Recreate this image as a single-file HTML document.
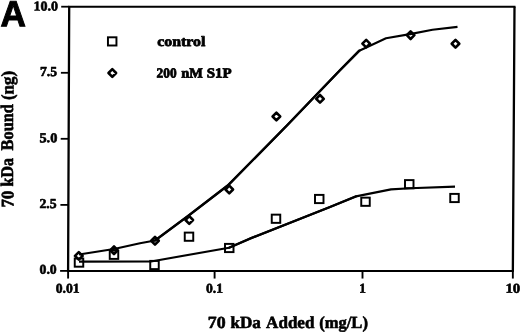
<!DOCTYPE html>
<html><head><meta charset="utf-8"><title>Figure A</title>
<style>
html,body{margin:0;padding:0;background:#fff;}
svg{display:block}
text{font-family:"Liberation Serif","DejaVu Serif",serif;font-weight:bold;fill:#000;stroke:#000;stroke-width:0.6px;stroke-linejoin:round}

</style></head><body>
<svg width="520" height="333" viewBox="0 0 520 333">
<rect width="520" height="333" fill="#fff"/>
<g fill="none" stroke="#000" stroke-width="2.2">
<path d="M69.2,6.7 L68.1,270.9 M514.5,6.75 L512.85,271" stroke-width="2.3" stroke-linecap="butt"/>
<path d="M69.2,6.7 L514.5,6.75 M68.1,270.9 L512.85,271" stroke-width="2.0" stroke-linecap="square"/>
<path d="M60.1,270.9 H68.1" stroke-width="1.8"/>
<path d="M60.4,204.9 H68.4" stroke-width="1.8"/>
<path d="M60.7,138.8 H68.7" stroke-width="1.8"/>
<path d="M60.9,72.8 H68.9" stroke-width="1.8"/>
<path d="M61.2,6.7 H69.2" stroke-width="1.8"/>
<path d="M68.1,270.95 V278.55" stroke-width="1.9"/>
<path d="M214.6,270.95 V278.55" stroke-width="1.9"/>
<path d="M362.5,270.95 V278.55" stroke-width="1.9"/>
<path d="M512.85,270.95 V278.55" stroke-width="1.9"/>
</g>
<g fill="none" stroke="#000" stroke-width="2.1" stroke-linejoin="round" stroke-linecap="butt">
<path d="M79.0,254.5 L114.0,249.0 L140.0,243.3 L155.0,240.5 L188.0,216.0 L228.0,185.3 L287.4,125.0 L340.2,70.0 L359.3,50.7 L386.0,38.3 L410.0,34.1 L432.5,29.8 L457.5,26.9"/>
<path d="M79.0,261.6 L151.0,261.5 L229.0,247.7 L250.0,238.6 L330.0,207.0 L356.0,196.4 L391.0,189.4 L410.0,188.3 L455.0,186.6"/>
<path d="M155.0,240.5 L188.0,216.0 L228.0,185.3 L287.4,125.0 L340.2,70.0 L359.3,50.7" stroke-width="2.45" stroke-linecap="round"/>
<path d="M229.0,247.7 L250.0,238.6 L330.0,207.0 L356.0,196.4" stroke-width="2.25" stroke-linecap="round"/>
</g>
<g fill="none" stroke="#000" stroke-width="1.95">
<rect x="74.75" y="258.50" width="8.5" height="8.2"/>
<rect x="109.75" y="250.70" width="8.5" height="8.2"/>
<rect x="150.25" y="260.90" width="8.5" height="8.2"/>
<rect x="184.75" y="232.60" width="8.5" height="8.2"/>
<rect x="225.00" y="243.90" width="8.5" height="8.2"/>
<rect x="271.75" y="214.65" width="8.5" height="8.2"/>
<rect x="315.00" y="194.90" width="8.5" height="8.2"/>
<rect x="361.25" y="197.65" width="8.5" height="8.2"/>
<rect x="405.00" y="180.10" width="8.5" height="8.2"/>
<rect x="450.25" y="193.90" width="8.5" height="8.2"/>
<rect x="107.95" y="37.30" width="8.5" height="8.2"/>
</g>
<g fill="none" stroke="#000" stroke-width="2.6" stroke-linejoin="round">
<path d="M75.00,255.90 L78.80,252.10 L82.60,255.90 L78.80,259.70 Z"/>
<path d="M110.20,250.30 L114.00,246.50 L117.80,250.30 L114.00,254.10 Z"/>
<path d="M151.20,240.75 L155.00,236.95 L158.80,240.75 L155.00,244.55 Z"/>
<path d="M185.45,220.00 L189.25,216.20 L193.05,220.00 L189.25,223.80 Z"/>
<path d="M225.45,189.50 L229.25,185.70 L233.05,189.50 L229.25,193.30 Z"/>
<path d="M272.60,116.50 L276.40,112.70 L280.20,116.50 L276.40,120.30 Z"/>
<path d="M316.20,98.80 L320.00,95.00 L323.80,98.80 L320.00,102.60 Z"/>
<path d="M362.40,43.60 L366.20,39.80 L370.00,43.60 L366.20,47.40 Z"/>
<path d="M406.80,35.20 L410.60,31.40 L414.40,35.20 L410.60,39.00 Z"/>
<path d="M451.70,43.75 L455.50,39.95 L459.30,43.75 L455.50,47.55 Z"/>
<path d="M108.50,73.00 L112.30,69.20 L116.10,73.00 L112.30,76.80 Z"/>
</g>
<text x="0.5" y="26.2" transform="rotate(0.03 0.5 26.2)" textLength="25.4" lengthAdjust="spacingAndGlyphs" style="font-family:'Liberation Sans',Arial,sans-serif;font-size:36.3px;font-weight:bold;stroke-width:1.0px;stroke-linejoin:miter">A</text>
<text x="33.4" y="10.4" font-size="13.6" textLength="24.5" lengthAdjust="spacingAndGlyphs" transform="rotate(0.03 33.4 10.4)">10.0</text>
<text x="39.9" y="76.1" font-size="13.6" textLength="17.1" lengthAdjust="spacingAndGlyphs" transform="rotate(0.03 39.9 76.1)">7.5</text>
<text x="39.4" y="142.3" font-size="13.6" textLength="17.9" lengthAdjust="spacingAndGlyphs" transform="rotate(0.03 39.4 142.3)">5.0</text>
<text x="39.4" y="207.9" font-size="13.6" textLength="17.2" lengthAdjust="spacingAndGlyphs" transform="rotate(0.03 39.4 207.9)">2.5</text>
<text x="39.5" y="273.7" font-size="13.6" textLength="17.2" lengthAdjust="spacingAndGlyphs" transform="rotate(0.03 39.5 273.7)">0.0</text>
<text x="55.7" y="292.8" font-size="13.6" textLength="23.9" lengthAdjust="spacingAndGlyphs" transform="rotate(0.03 55.7 292.8)">0.01</text>
<text x="206.0" y="292.8" font-size="13.6" textLength="17.1" lengthAdjust="spacingAndGlyphs" transform="rotate(0.03 206.0 292.8)">0.1</text>
<text x="359.2" y="292.8" font-size="13.6" textLength="6.7" lengthAdjust="spacingAndGlyphs" transform="rotate(0.03 359.2 292.8)">1</text>
<text x="505.4" y="292.8" font-size="13.6" textLength="14.9" lengthAdjust="spacingAndGlyphs" transform="rotate(0.03 505.4 292.8)">10</text>
<text x="157.3" y="45.9" font-size="14.2" textLength="48.0" lengthAdjust="spacingAndGlyphs" style="stroke-width:0.75px" transform="rotate(0.03 157 46)">control</text>
<text y="77.4" font-size="13.9" style="stroke-width:0.75px" transform="rotate(0.03 156 77)"><tspan x="156.6" textLength="20.0" lengthAdjust="spacingAndGlyphs">200</tspan> <tspan x="181.3" textLength="21.6" lengthAdjust="spacingAndGlyphs">nM</tspan> <tspan x="206.7" textLength="24.9" lengthAdjust="spacingAndGlyphs">S1P</tspan></text>
<text y="328.0" font-size="17" transform="rotate(0.03 207.8 328.0)"><tspan x="207.8" textLength="17.8" lengthAdjust="spacingAndGlyphs">70</tspan> <tspan x="230.4" textLength="30.4" lengthAdjust="spacingAndGlyphs">kDa</tspan> <tspan x="266.1" textLength="48.3" lengthAdjust="spacingAndGlyphs">Added</tspan> <tspan x="319.2" textLength="48.7" lengthAdjust="spacingAndGlyphs">(mg/L)</tspan></text>
<text y="0" font-size="17.8" transform="translate(13.5,207.4) rotate(-90.03)"><tspan x="0" textLength="16.6" lengthAdjust="spacingAndGlyphs">70</tspan> <tspan x="21.0" textLength="28.3" lengthAdjust="spacingAndGlyphs">kDa</tspan> <tspan x="57.0" textLength="46.3" lengthAdjust="spacingAndGlyphs">Bound</tspan> <tspan x="107.4" textLength="29.1" lengthAdjust="spacingAndGlyphs">(ng)</tspan></text>
</svg></body></html>
